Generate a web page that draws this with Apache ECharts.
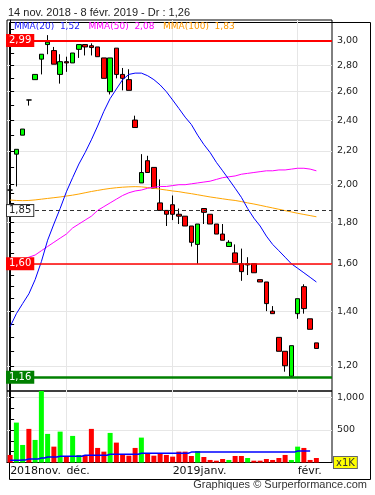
<!DOCTYPE html>
<html><head><meta charset="utf-8">
<script src="https://cdn.jsdelivr.net/npm/echarts@6/dist/echarts.min.js"></script>
<style>html,body{margin:0;padding:0;background:#fff}#c{width:375px;height:495px}</style>
</head><body><div id="c"></div>
<script>
// ---- data ----
const opens  = [1.97,2.18,2.30,2.54,2.69,2.85,2.97,2.92,2.73,2.83,2.82,2.93,2.97,2.96,2.95,2.86,2.60,2.94,2.73,2.69,2.40,2.01,2.14,2.10,1.90,1.86,1.89,1.84,1.83,1.78,1.69,1.87,1.84,1.79,1.74,1.68,1.65,1.60,1.595,1.60,1.53,1.52,1.40,1.30,1.25,1.165,1.39,1.50,1.37,1.28];
const closes = [1.97,2.21,2.34,2.54,2.73,2.89,2.99,2.81,2.83,2.82,2.90,2.97,2.95,2.945,2.87,2.70,2.86,2.73,2.70,2.61,2.35,2.07,2.07,1.98,1.86,1.84,1.84,1.83,1.78,1.70,1.79,1.85,1.79,1.74,1.71,1.70,1.605,1.565,1.60,1.56,1.52,1.43,1.39,1.25,1.20,1.27,1.45,1.41,1.33,1.26];
const lows   = [1.95,1.99,2.30,2.50,2.69,2.73,2.89,2.81,2.66,2.75,2.82,2.86,2.88,2.88,2.87,2.70,2.58,2.70,2.61,2.61,2.35,2.01,2.07,1.98,1.86,1.78,1.81,1.79,1.78,1.68,1.60,1.79,1.79,1.74,1.71,1.68,1.605,1.525,1.55,1.56,1.52,1.40,1.39,1.25,1.18,1.16,1.37,1.39,1.33,1.26];
const highs  = [1.97,2.21,2.34,2.54,2.73,2.89,3.05,2.95,2.89,2.87,2.90,2.97,2.97,2.98,2.95,2.86,2.86,2.94,2.78,2.77,2.43,2.18,2.17,2.10,2.03,1.86,1.94,1.87,1.83,1.78,1.79,1.87,1.84,1.79,1.79,1.71,1.69,1.67,1.63,1.60,1.53,1.52,1.42,1.30,1.25,1.27,1.45,1.51,1.37,1.28];
const volumes = [116,614,270,517,347,1100,440,244,475,100,409,116,116,517,224,167,455,306,131,105,224,383,142,105,142,116,90,167,167,100,177,85,39,28,54,39,100,100,69,28,28,54,39,69,116,39,244,224,39,69];
const volumeMA = [34,34,40,54,54,69,85,85,96,96,96,96,111,111,111,111,127,127,127,127,127,142,142,142,142,142,142,142,142,160,160,160,160,160,160,160,160,160,160,160,160,160,160,160,160,160,177,177,177];
const mma20  = [1.34,1.39,1.43,1.47,1.53,1.61,1.71,1.79,1.87,1.96,2.04,2.12,2.19,2.27,2.36,2.46,2.55,2.62,2.69,2.73,2.74,2.74,2.72,2.69,2.65,2.60,2.54,2.48,2.42,2.37,2.30,2.24,2.19,2.13,2.08,2.03,1.98,1.93,1.87,1.82,1.78,1.73,1.69,1.66,1.63,1.60,1.58,1.56,1.54,1.52];
const mma50  = [1.59,1.60,1.62,1.63,1.64,1.66,1.68,1.70,1.72,1.74,1.77,1.79,1.81,1.83,1.86,1.88,1.90,1.92,1.94,1.955,1.965,1.97,1.98,1.985,1.99,1.99,1.995,2.00,2.00,2.005,2.01,2.015,2.02,2.03,2.04,2.045,2.05,2.06,2.065,2.07,2.075,2.08,2.08,2.085,2.085,2.09,2.095,2.095,2.09,2.08];
const mma100 = [1.915,1.913,1.912,1.913,1.916,1.92,1.924,1.928,1.932,1.937,1.942,1.948,1.955,1.962,1.968,1.974,1.979,1.983,1.986,1.988,1.989,1.988,1.984,1.98,1.975,1.97,1.965,1.961,1.955,1.95,1.944,1.938,1.932,1.927,1.922,1.917,1.913,1.907,1.90,1.894,1.887,1.88,1.873,1.866,1.859,1.852,1.845,1.839,1.833,1.827];
const slotCount = 52;                 // trading-day slots on the axis (50 used)
const categories = Array.from({length: slotCount}, (_, i) => 'j' + i);
const monthTickIdx = [0, 9, 26, 46];
const monthLabels = ['2018nov.', 'déc.', '2019janv.', 'févr.'];
const priceTicks = [3.10,3.00,2.90,2.80,2.70,2.60,2.50,2.40,2.30,2.20,2.10,2.00,1.95,1.90,1.85,1.80,1.75,1.70,1.65,1.60,1.55,1.50,1.45,1.40,1.35,1.30,1.25,1.20,1.15];
const priceLabels = [3.00,2.80,2.60,2.40,2.20,2.00,1.80,1.60,1.40,1.20];
const levelValues = [2.99, 1.85, 1.60, 1.16];
const volTicks = [166.67,333.33,500,666.67,833.33,1000];
const volLabels = [500, 1000];
const periodText = '14 nov. 2018 - 8 févr. 2019';

// ---- helpers ----
const ln = Math.log;
const fmt = v => v.toFixed(2).replace('.', ',');
const priceMin = 1.1175, priceMax = 3.183;
const UP = '#00ff00', DOWN = '#ff0000';
const F = 'DejaVu Sans';

const candleData = opens.map((o, i) => [ln(o), ln(closes[i]), ln(lows[i]), ln(highs[i])]);
const volData = volumes.map((v, i) => ({value: v, itemStyle: {color: closes[i] > opens[i] ? UP : DOWN}}));
const last = a => a[a.length - 1];

const levelStyles = [
  {line: {color: '#ff0000', width: 2, type: 'solid'}, bg: '#ff0000', fg: '#fff', border: '#ff0000'},
  {line: {color: '#333', width: 1, type: [4, 3]}, bg: '#fff', fg: '#222', border: '#333'},
  {line: {color: '#ff0000', width: 1.5, type: 'solid'}, bg: '#ff0000', fg: '#fff', border: '#ff0000'},
  {line: {color: '#008000', width: 2.5, type: 'solid'}, bg: '#008000', fg: '#fff', border: '#008000'}
];

const chart = echarts.init(document.getElementById('c'), null, {renderer: 'canvas'});
chart.setOption({
  animation: false,
  backgroundColor: '#fff',
  title: [
    {text: periodText + ' - Dr : ' + fmt(last(closes)), left: 8, top: 7, padding: 0,
     textStyle: {fontSize: 11, fontWeight: 'normal', color: '#222', fontFamily: 'Liberation Sans'}},
    {text: '{a|MMA(20)  ' + fmt(last(mma20)) + '}   {b|MMA(50)  ' + fmt(last(mma50)) + '}   {c|MMA(100)  ' + fmt(last(mma100)) + '}',
     left: 14, top: 22, padding: 0, z: 20,
     textStyle: {fontSize: 9, fontWeight: 'normal', fontFamily: F, color: '#0000ff',
       rich: {a: {color: '#1a1aff', fontSize: 9, fontFamily: F}, b: {color: '#ff00ff', fontSize: 9, fontFamily: F}, c: {color: '#ff9900', fontSize: 9, fontFamily: F}}}},
    {text: 'Graphiques © Surperformance.com', right: 8, top: 479, padding: 0,
     textStyle: {fontSize: 11, fontWeight: 'normal', color: '#333', fontFamily: 'Liberation Sans'}}
  ],
  graphic: [
    {type: 'rect', left: 7, top: 20, shape: {width: 361, height: 457}, style: {fill: 'none', stroke: '#000', lineWidth: 1}, silent: true},
    {type: 'text', left: 333, top: 456, style: {text: 'x1K', fill: '#333', font: '10px DejaVu Sans', backgroundColor: '#ffff00', borderColor: '#666', borderWidth: 1, padding: [1, 2, 0, 2]}, z: 10}
  ],
  grid: [
    {left: 7, top: 20, width: 325, height: 371, show: true, borderColor: '#000', borderWidth: 1, backgroundColor: 'transparent', outerBoundsMode: 'none'},
    {left: 7, top: 391, width: 325, height: 71.5, show: true, borderColor: '#000', borderWidth: 1, backgroundColor: 'transparent', outerBoundsMode: 'none'}
  ],
  xAxis: [
    {type: 'category', gridIndex: 0, data: categories, show: false, boundaryGap: true},
    {type: 'value', gridIndex: 0, min: -0.5, max: slotCount - 0.5, position: 'top',
     axisLine: {show: false}, axisTick: {show: false, customValues: monthTickIdx}, axisLabel: {show: false},
     splitLine: {show: true, lineStyle: {color: '#e6e6e6', width: 1}}},
    {type: 'category', gridIndex: 1, data: categories, show: false, boundaryGap: true, position: 'top'},
    {type: 'value', gridIndex: 1, min: -0.5, max: slotCount - 0.5, position: 'bottom',
     axisLine: {show: true, lineStyle: {color: '#000', width: 1}}, axisTick: {show: false, customValues: monthTickIdx},
     axisLabel: {show: true, customValues: monthTickIdx, align: 'left', margin: 3, fontSize: 11, color: '#111', fontFamily: F,
       formatter: v => monthLabels[monthTickIdx.indexOf(Math.round(v))] || ''},
     splitLine: {show: true, lineStyle: {color: '#e6e6e6', width: 1}}}
  ],
  yAxis: [
    {type: 'value', gridIndex: 0, position: 'right', min: ln(priceMin), max: ln(priceMax),
     axisLine: {show: true, lineStyle: {color: '#000'}},
     axisTick: {show: true, length: 4, customValues: priceTicks.map(ln), lineStyle: {color: '#000'}},
     axisLabel: {show: true, customValues: priceLabels.map(ln), formatter: v => fmt(Math.exp(v)), margin: 5, fontSize: 9.5, color: '#222', fontFamily: F},
     splitLine: {show: false}},
    {type: 'value', gridIndex: 0, position: 'left', min: ln(priceMin), max: ln(priceMax),
     axisLine: {show: false}, axisTick: {show: false, customValues: priceLabels.map(ln)}, axisLabel: {show: false},
     splitLine: {show: true, lineStyle: {color: '#e6e6e6', width: 1}}},
    {type: 'value', gridIndex: 1, position: 'right', min: 0, max: 1100,
     axisLine: {show: true, lineStyle: {color: '#000'}},
     axisTick: {show: true, length: 4, customValues: volTicks, lineStyle: {color: '#000'}},
     axisLabel: {show: true, customValues: volLabels, margin: 5, fontSize: 9.5, color: '#222', fontFamily: F},
     splitLine: {show: false}},
    {type: 'value', gridIndex: 1, position: 'left', min: 0, max: 1100,
     axisLine: {show: false}, axisTick: {show: false, customValues: volLabels}, axisLabel: {show: false},
     splitLine: {show: true, lineStyle: {color: '#e6e6e6', width: 1}}}
  ],
  series: [
    {type: 'line', name: 'MMA(100)', xAxisIndex: 0, yAxisIndex: 0, data: mma100.map(ln), symbol: 'none', lineStyle: {color: '#ffa500', width: 1}, silent: true},
    {type: 'line', name: 'MMA(50)', xAxisIndex: 0, yAxisIndex: 0, data: mma50.map(ln), symbol: 'none', lineStyle: {color: '#ff00ff', width: 1}, silent: true},
    {type: 'line', name: 'MMA(20)', xAxisIndex: 0, yAxisIndex: 0, data: mma20.map(ln), symbol: 'none', lineStyle: {color: '#0000ff', width: 1}, silent: true},
    {type: 'candlestick', xAxisIndex: 0, yAxisIndex: 0, data: candleData, barWidth: 5,
     itemStyle: {color: UP, color0: DOWN, borderColor: '#000', borderColor0: '#000', borderColorDoji: '#000', borderWidth: 1},
     markLine: {silent: true, symbol: ['none', 'none'], animation: false,
       data: levelValues.map((v, k) => ({
         yAxis: ln(v),
         lineStyle: levelStyles[k].line,
         label: {show: true, position: 'insideStart', distance: 0, formatter: fmt(v),
           color: levelStyles[k].fg, backgroundColor: levelStyles[k].bg, borderColor: levelStyles[k].border, borderWidth: 1,
           padding: [1, 2, 0, 2], fontSize: 10, fontFamily: F}
       }))}},
    {type: 'bar', xAxisIndex: 2, yAxisIndex: 2, data: volData, barWidth: 5, silent: true},
    {type: 'line', xAxisIndex: 2, yAxisIndex: 2, data: volumeMA, step: 'middle', symbol: 'none', lineStyle: {color: '#0000ff', width: 1.5}, silent: true}
  ]
});
</script>
</body></html>
